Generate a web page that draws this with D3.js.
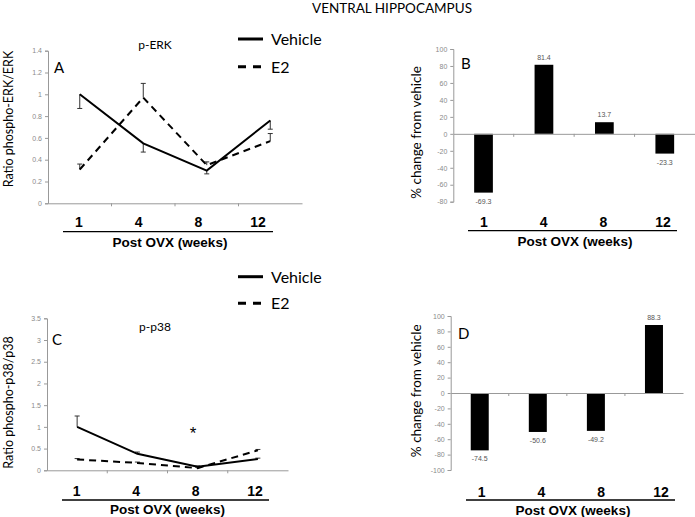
<!DOCTYPE html>
<html><head><meta charset="utf-8">
<script src="https://cdn.jsdelivr.net/npm/d3@7"></script>
<style>body{margin:0;background:#fff}svg{display:block}</style>
</head><body>
<script>
// ---- data ----
const weeks = ["1", "4", "8", "12"];
// Panel A: p-ERK ratio
const erkVehicle = [1.0, 0.55, 0.30, 0.76];
const erkVehicleErrLow = [0.87, 0.47, 0.27, 0.68];
const erkE2 = [0.31, 0.97, 0.35, 0.57];
const erkE2ErrHigh = [0.36, 1.10, 0.38, 0.64];
const erkYTicks = [0, 0.2, 0.4, 0.6, 0.8, 1, 1.2, 1.4];
// Panel B: % change
const erkChange = [-69.3, 81.4, 13.7, -23.3];
const erkChangeTicks = [-80, -60, -40, -20, 0, 20, 40, 60, 80, 100];
// Panel C: p-p38 ratio
const p38Vehicle = [1.0, 0.38, 0.08, 0.26];
const p38VehicleErrHigh = [1.25, 0.42, 0.10, 0.28];
const p38E2 = [0.25, 0.17, 0.05, 0.46];
const p38E2ErrHigh = [0.27, 0.19, 0.07, 0.48];
const p38YTicks = [0, 0.5, 1, 1.5, 2, 2.5, 3, 3.5];
// Panel D: % change
const p38Change = [-74.5, -50.6, -49.2, 88.3];
const p38ChangeTicks = [-100, -80, -60, -40, -20, 0, 20, 40, 60, 80, 100];

const W = 695, H = 517;
const svg = d3.select("body").append("svg").attr("width", W).attr("height", H);
const cal = "Lato, 'Open Sans', sans-serif";
const ari = "'Liberation Sans', Arial, sans-serif";

svg.append("text").attr("x", 392).attr("y", 13).attr("text-anchor", "middle")
  .attr("font-family", cal).attr("font-size", 13.5).text("VENTRAL HIPPOCAMPUS");

function fmt(v){ return String(v); }

function yAxis(g, y, ticks, x0){
  const ax = d3.axisLeft(y).tickValues(ticks).tickSize(3).tickPadding(3).tickFormat(fmt);
  const a = g.append("g").attr("transform", `translate(${x0},0)`).call(ax);
  a.select(".domain").attr("stroke", "#999");
  a.selectAll(".tick line").attr("stroke", "#999");
  a.selectAll(".tick text").attr("fill", "#8a8a8a").attr("font-family", ari).attr("font-size", 7);
}
function xAxis(g, x, y0){
  const ax = d3.axisBottom(x).tickSize(0).tickFormat("");
  const a = g.append("g").attr("transform", `translate(0,${y0})`).call(ax);
  a.select(".domain").attr("stroke", "#999");
  const b = x.domain().slice(1).map(d => x(d));
  a.selectAll("line.bt").data(b).join("line").attr("class","bt")
    .attr("x1", d => d).attr("x2", d => d).attr("y1", 0).attr("y2", 3).attr("stroke", "#999");
}
function catRow(g, xr, yText, yLine, lineRange, titleX, yTitle){
  const sp = d3.scalePoint().domain(weeks).range(xr);
  g.selectAll(null).data(weeks).join("text")
    .attr("x", d => sp(d)).attr("y", yText).attr("text-anchor", "middle")
    .attr("font-family", ari).attr("font-weight", "bold").attr("font-size", 14).text(d => d);
  g.append("line").attr("x1", lineRange[0]).attr("x2", lineRange[1]).attr("y1", yLine).attr("y2", yLine)
    .attr("stroke", "#000").attr("stroke-width", 1.3);
  g.append("text").attr("x", titleX).attr("y", yTitle).attr("text-anchor", "middle")
    .attr("font-family", ari).attr("font-weight", "bold").attr("font-size", 13.5).text("Post OVX (weeks)");
}
function yLabel(g, x, y, t, fs){
  g.append("text").attr("transform", `translate(${x},${y}) rotate(-90)`).attr("text-anchor", "middle")
    .attr("font-family", cal).attr("font-size", fs).text(t);
}
function legend(g, x, y1, y2){
  g.append("line").attr("x1", x).attr("x2", x+25).attr("y1", y1).attr("y2", y1).attr("stroke", "#000").attr("stroke-width", 3);
  g.append("line").attr("x1", x).attr("x2", x+25).attr("y1", y2).attr("y2", y2).attr("stroke", "#000").attr("stroke-width", 3).attr("stroke-dasharray", "8,7");
  g.append("text").attr("x", x+33).attr("y", y1+6).attr("font-family", cal).attr("font-size", 16).text("Vehicle");
  g.append("text").attr("x", x+33).attr("y", y2+6).attr("font-family", cal).attr("font-size", 16).text("E2");
}

function linePanel(o){
  const g = svg.append("g");
  const x = d3.scaleBand().domain(weeks).range(o.xr);
  const y = d3.scaleLinear().domain([0, o.ymax]).range(o.yr);
  const cx = d => x(d) + x.bandwidth()/2;
  yAxis(g, y, o.ticks, o.xr[0]);
  xAxis(g, x, o.yr[0]);
  function err(vals, ends){
    weeks.forEach((w,i) => {
      g.append("line").attr("x1", cx(w)).attr("x2", cx(w)).attr("y1", y(vals[i])).attr("y2", y(ends[i])).attr("stroke", "#333").attr("stroke-width", 1);
      g.append("line").attr("x1", cx(w)-2.5).attr("x2", cx(w)+2.5).attr("y1", y(ends[i])).attr("y2", y(ends[i])).attr("stroke", "#333").attr("stroke-width", 1);
    });
  }
  err(o.veh, o.vehErr); err(o.e2, o.e2Err);
  const line = d3.line().x((d,i) => cx(weeks[i])).y(d => y(d));
  g.append("path").datum(o.veh).attr("d", line).attr("fill", "none").attr("stroke", "#000").attr("stroke-width", 2);
  g.append("path").datum(o.e2).attr("d", line).attr("fill", "none").attr("stroke", "#000").attr("stroke-width", 2).attr("stroke-dasharray", "7,5");
  return g;
}

function barPanel(o){
  const g = svg.append("g");
  const x = d3.scaleBand().domain(weeks).range(o.xr);
  const y = d3.scaleLinear().domain(o.ydom).range(o.yr);
  yAxis(g, y, o.ticks, o.xr[0]);
  const bw = x.bandwidth()*0.31;
  g.selectAll("rect").data(o.vals).join("rect")
    .attr("x", (d,i) => x(weeks[i]) + x.bandwidth()/2 - bw/2)
    .attr("width", bw)
    .attr("y", d => y(Math.max(0,d))).attr("height", d => Math.abs(y(d)-y(0)))
    .attr("fill", "#000");
  xAxis(g, x, y(0));
  g.selectAll("text.v").data(o.vals).join("text").attr("class","v")
    .attr("x", (d,i) => x(weeks[i]) + x.bandwidth()/2)
    .attr("y", d => d >= 0 ? y(d) - 5 : y(d) + 11)
    .attr("text-anchor", "middle").attr("font-family", ari).attr("font-size", 7).attr("fill", "#555")
    .text(d => d.toFixed(1));
  return g;
}

// Panel A
const gA = linePanel({xr:[48,302], yr:[203.3,50.7], ymax:1.4, ticks:erkYTicks,
  veh:erkVehicle, vehErr:erkVehicleErrLow, e2:erkE2, e2Err:erkE2ErrHigh});
gA.append("text").attr("x", 54).attr("y", 73).attr("font-family", cal).attr("font-size", 15).text("A");
gA.append("text").attr("x", 155).attr("y", 49).attr("text-anchor","middle").attr("font-family", cal).attr("font-size", 12).text("p-ERK");
yLabel(gA, 13, 119, "Ratio phospho-ERK/ERK", 12.5);
catRow(gA, [79,258], 227, 231.7, [63,273], 170, 246.5);
legend(svg, 238, 39, 66.7);

// Panel B
const gB = barPanel({xr:[453.3,695], yr:[201.7,49], ydom:[-80,100], ticks:erkChangeTicks, vals:erkChange});
gB.append("text").attr("x", 461).attr("y", 69).attr("font-family", cal).attr("font-size", 15).text("B");
yLabel(gB, 421, 132.5, "% change from vehicle", 13.5);
catRow(gB, [484,663], 227, 230.7, [468,677], 575, 245.5);

// Panel C
const gC = linePanel({xr:[47,288], yr:[470.3,318.3], ymax:3.5, ticks:p38YTicks,
  veh:p38Vehicle, vehErr:p38VehicleErrHigh, e2:p38E2, e2Err:p38E2ErrHigh});
gC.append("text").attr("x", 52).attr("y", 345).attr("font-family", cal).attr("font-size", 15).text("C");
gC.append("text").attr("x", 155).attr("y", 331).attr("text-anchor","middle").attr("font-family", cal).attr("font-size", 12).text("p-p38");
gC.append("text").attr("x", 193).attr("y", 439).attr("text-anchor","middle").attr("font-family", ari).attr("font-size", 17).text("*");
yLabel(gC, 13, 402.5, "Ratio phospho-p38/p38", 12.5);
catRow(gC, [76.7,255], 496, 500, [62,269], 167.5, 514);
legend(svg, 238, 276.7, 303.3);

// Panel D
const gD = barPanel({xr:[450.7,683], yr:[470,316], ydom:[-100,100], ticks:p38ChangeTicks, vals:p38Change});
gD.append("text").attr("x", 458).attr("y", 339).attr("font-family", cal).attr("font-size", 15).text("D");
yLabel(gD, 421, 390.8, "% change from vehicle", 13.5);
catRow(gD, [481.7,661], 496.5, 500, [466,675], 573, 515);
</script>
</body></html>
